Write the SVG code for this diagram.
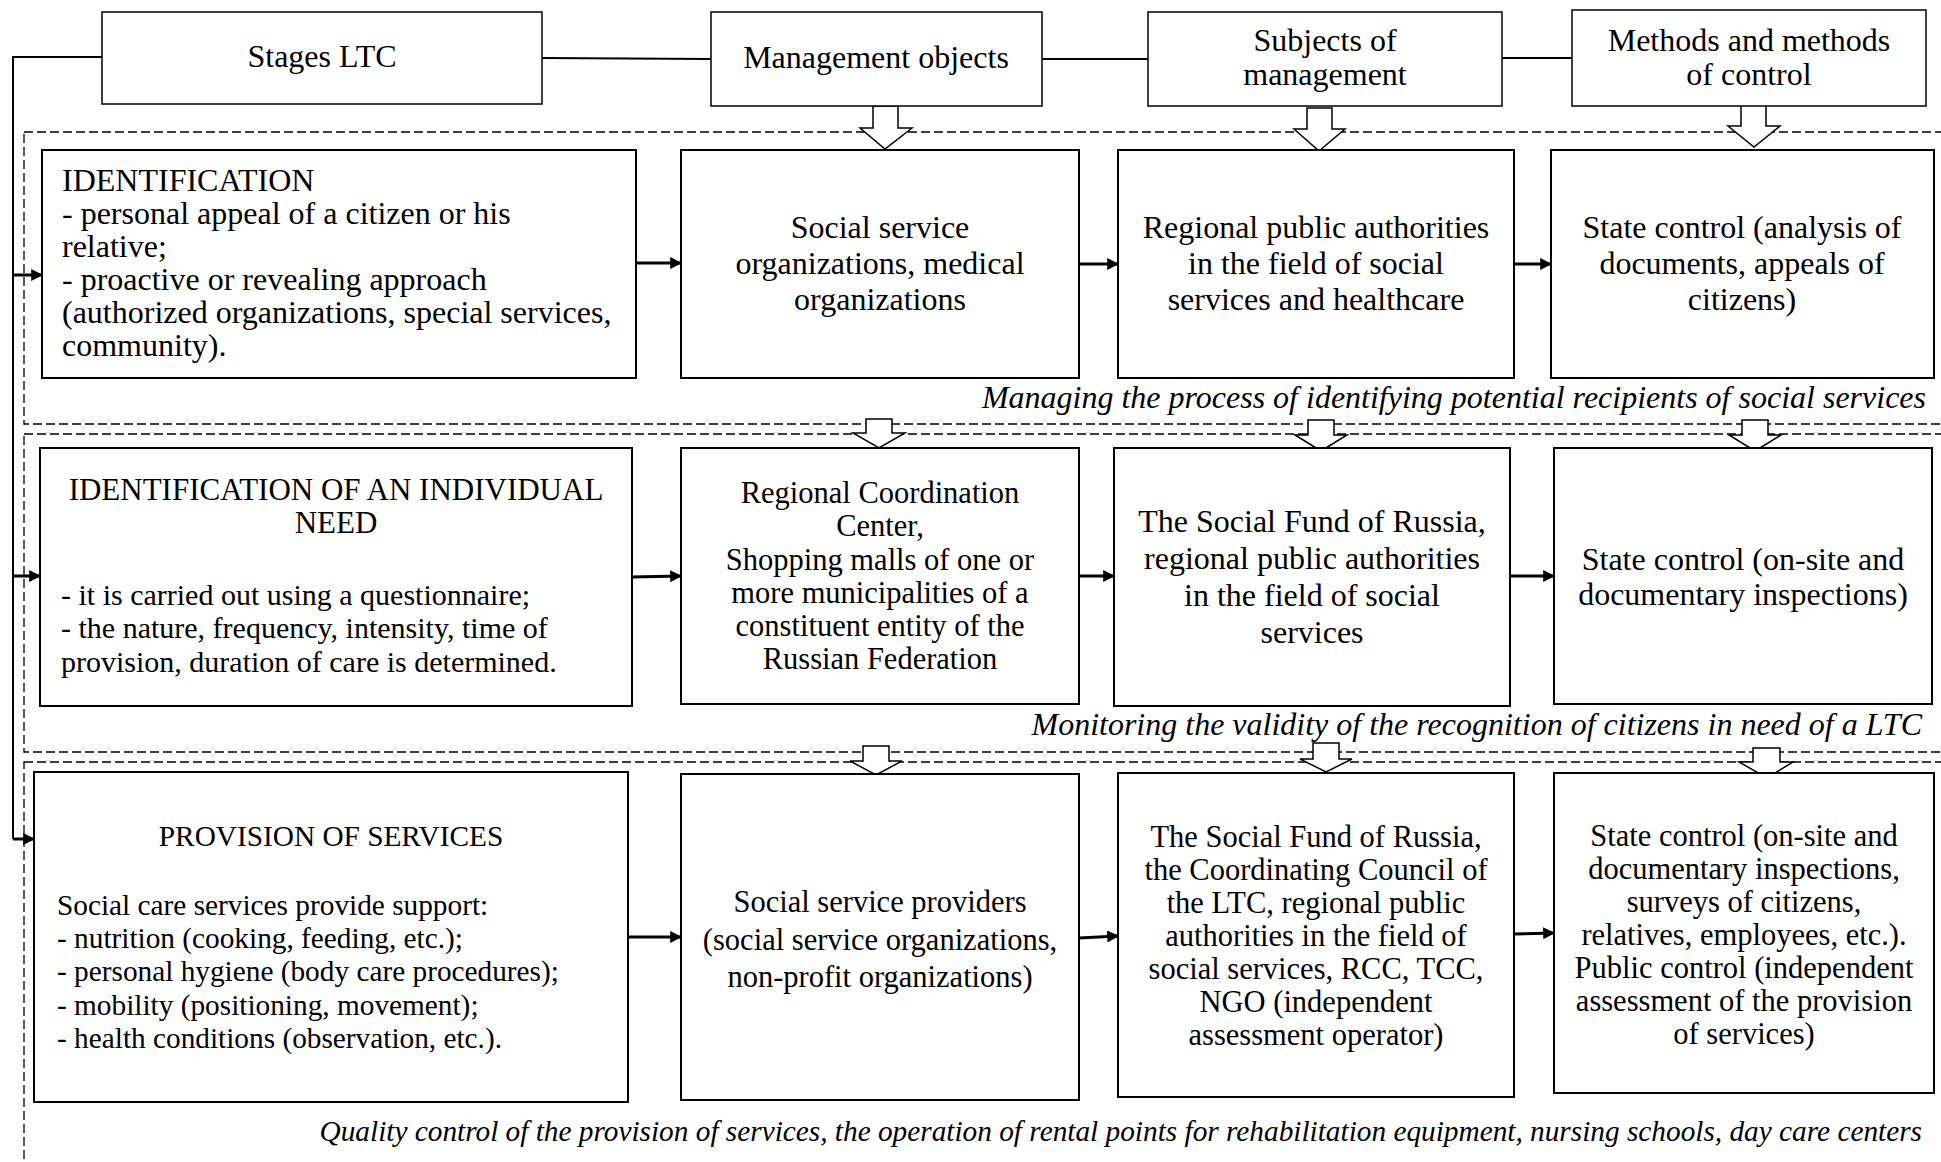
<svg xmlns="http://www.w3.org/2000/svg" width="1941" height="1162" viewBox="0 0 1941 1162">
<defs>
<style>
.hb{fill:#fff;stroke:#000;stroke-width:1.5}
.bx{fill:#fff;stroke:#000;stroke-width:2}
.sec{fill:none;stroke:#000;stroke-width:1.3;stroke-dasharray:9 4}
.ln{fill:none;stroke:#000;stroke-width:2}
.ar{fill:none;stroke:#000;stroke-width:3;marker-end:url(#ah)}
.ha{fill:#fff;stroke:#000;stroke-width:1.5}
text{font-family:"Liberation Serif","Times New Roman",serif;font-size:32px;fill:#000}
.c{text-anchor:middle}
.it{font-style:italic;text-anchor:end}
.f29{font-size:29.3px}
.f30{font-size:30px}
.f305{font-size:30.5px}
.f31{font-size:31px}
</style>
<marker id="ah" viewBox="0 0 10 10" refX="9" refY="5" markerWidth="4" markerHeight="4" markerUnits="strokeWidth" orient="auto">
<path d="M0,0 L10,5 L0,10 Z" fill="#000"/>
</marker>
</defs>

<g id="sections">
<rect class="sec" x="24" y="132" width="1930" height="292"/>
<rect class="sec" x="24" y="434" width="1930" height="318"/>
<rect class="sec" x="24" y="762" width="1930" height="420"/>
</g>

<g id="connectors">
<polyline class="ln" points="102,57 13,57 13,839"/>
<line class="ln" x1="542" y1="58" x2="711" y2="59"/>
<line class="ln" x1="1042" y1="59" x2="1148" y2="59"/>
<line class="ln" x1="1502" y1="58" x2="1572" y2="58"/>
<line class="ar" x1="13" y1="275" x2="42" y2="275"/>
<line class="ar" x1="13" y1="576" x2="40" y2="576"/>
<line class="ar" x1="13" y1="839" x2="34" y2="839"/>
<line class="ar" x1="636" y1="263" x2="681" y2="263"/>
<line class="ar" x1="1079" y1="264" x2="1118" y2="264"/>
<line class="ar" x1="1514" y1="264" x2="1551" y2="264"/>
<line class="ar" x1="632" y1="577" x2="681" y2="576"/>
<line class="ar" x1="1079" y1="576" x2="1114" y2="576"/>
<line class="ar" x1="1510" y1="576" x2="1554" y2="576"/>
<line class="ar" x1="628" y1="937" x2="681" y2="937"/>
<line class="ar" x1="1079" y1="938" x2="1118" y2="936"/>
<line class="ar" x1="1514" y1="934" x2="1554" y2="933"/>
<polygon class="ha" points="873,106 898,106 898,128 912,128 885,149 860,128 873,128"/>
<polygon class="ha" points="1307,108 1332,108 1332,129 1345,129 1319,151 1294,129 1307,129"/>
<polygon class="ha" points="1741,104 1766,104 1766,126 1780,126 1754,147 1728,126 1741,126"/>
<polygon class="ha" points="866,419 892,419 892,433 905,433 879,448 853,433 866,433"/>
<polygon class="ha" points="1308,420 1334,420 1334,435 1347,435 1321,451 1295,435 1308,435"/>
<polygon class="ha" points="1742,420 1768,420 1768,435 1781,435 1755,451 1729,435 1742,435"/>
<polygon class="ha" points="863,746 889,746 889,761 902,761 876,775 850,761 863,761"/>
<polygon class="ha" points="1313,743 1339,743 1339,759 1352,759 1326,772 1300,759 1313,759"/>
<polygon class="ha" points="1753,748 1780,748 1780,762 1793,762 1767,778 1739,762 1753,762"/>
</g>

<g id="stages-ltc"><rect class="hb" x="102" y="12" width="440" height="92"/><text class="c" x="322" y="67">Stages LTC</text></g>
<g id="management-objects"><rect class="hb" x="711" y="12" width="331" height="94"/><text class="c" x="876" y="68">Management objects</text></g>
<g id="subjects-of-management"><rect class="hb" x="1148" y="12" width="354" height="94"/><text class="c" x="1325" y="51">Subjects of</text><text class="c" x="1325" y="85">management</text></g>
<g id="methods-of-control"><rect class="hb" x="1572" y="10" width="354" height="96"/><text class="c" x="1749" y="51">Methods and methods</text><text class="c" x="1749" y="85">of control</text></g>

<g id="identification">
<rect class="bx" x="42" y="150" width="594" height="228"/>
<text x="62" y="191">IDENTIFICATION</text>
<text x="62" y="224">- personal appeal of a citizen or his</text>
<text x="62" y="257">relative;</text>
<text x="62" y="290">- proactive or revealing approach</text>
<text x="62" y="323">(authorized organizations, special services,</text>
<text x="62" y="356">community).</text>
</g>
<g id="social-service-organizations">
<rect class="bx" x="681" y="150" width="398" height="228"/>
<text class="c" x="880" y="238">Social service</text>
<text class="c" x="880" y="274">organizations, medical</text>
<text class="c" x="880" y="310">organizations</text>
</g>
<g id="regional-public-authorities">
<rect class="bx" x="1118" y="150" width="396" height="228"/>
<text class="c" x="1316" y="238">Regional public authorities</text>
<text class="c" x="1316" y="274">in the field of social</text>
<text class="c" x="1316" y="310">services and healthcare</text>
</g>
<g id="state-control-1">
<rect class="bx" x="1551" y="150" width="383" height="228"/>
<text class="c" x="1742" y="238">State control (analysis of</text>
<text class="c" x="1742" y="274">documents, appeals of</text>
<text class="c" x="1742" y="310">citizens)</text>
</g>
<text class="it" x="1926" y="408">Managing the process of identifying potential recipients of social services</text>

<g id="identification-need">
<rect class="bx" x="40" y="448" width="592" height="258"/>
<text class="c f31" x="336" y="500">IDENTIFICATION OF AN INDIVIDUAL</text>
<text class="c f31" x="336" y="533">NEED</text>
<text class="f30" x="61" y="605">- it is carried out using a questionnaire;</text>
<text class="f30" x="61" y="638">- the nature, frequency, intensity, time of</text>
<text class="f30" x="61" y="672">provision, duration of care is determined.</text>
</g>
<g id="regional-coordination-center">
<rect class="bx" x="681" y="448" width="398" height="256"/>
<text class="c f305" x="880" y="503">Regional Coordination</text>
<text class="c f305" x="880" y="536">Center,</text>
<text class="c f305" x="880" y="570">Shopping malls of one or</text>
<text class="c f305" x="880" y="603">more municipalities of a</text>
<text class="c f305" x="880" y="636">constituent entity of the</text>
<text class="c f305" x="880" y="669">Russian Federation</text>
</g>
<g id="social-fund-2">
<rect class="bx" x="1114" y="448" width="396" height="258"/>
<text class="c" x="1312" y="532">The Social Fund of Russia,</text>
<text class="c" x="1312" y="569">regional public authorities</text>
<text class="c" x="1312" y="606">in the field of social</text>
<text class="c" x="1312" y="643">services</text>
</g>
<g id="state-control-2">
<rect class="bx" x="1554" y="448" width="378" height="256"/>
<text class="c" x="1743" y="570">State control (on-site and</text>
<text class="c" x="1743" y="605">documentary inspections)</text>
</g>
<text class="it" x="1922" y="735">Monitoring the validity of the recognition of citizens in need of a LTC</text>

<g id="provision-of-services">
<rect class="bx" x="34" y="772" width="594" height="330"/>
<text class="c f29" x="331" y="846">PROVISION OF SERVICES</text>
<text class="f29" x="57" y="915">Social care services provide support:</text>
<text class="f29" x="57" y="948">- nutrition (cooking, feeding, etc.);</text>
<text class="f29" x="57" y="981">- personal hygiene (body care procedures);</text>
<text class="f29" x="57" y="1015">- mobility (positioning, movement);</text>
<text class="f29" x="57" y="1048">- health conditions (observation, etc.).</text>
</g>
<g id="social-service-providers">
<rect class="bx" x="681" y="774" width="398" height="326"/>
<text class="c f305" x="880" y="912">Social service providers</text>
<text class="c f305" x="880" y="950">(social service organizations,</text>
<text class="c f305" x="880" y="987">non-profit organizations)</text>
</g>
<g id="social-fund-3">
<rect class="bx" x="1118" y="773" width="396" height="324"/>
<text class="c f305" x="1316" y="847">The Social Fund of Russia,</text>
<text class="c f305" x="1316" y="880">the Coordinating Council of</text>
<text class="c f305" x="1316" y="913">the LTC, regional public</text>
<text class="c f305" x="1316" y="946">authorities in the field of</text>
<text class="c f305" x="1316" y="979">social services, RCC, TCC,</text>
<text class="c f305" x="1316" y="1012">NGO (independent</text>
<text class="c f305" x="1316" y="1045">assessment operator)</text>
</g>
<g id="state-control-3">
<rect class="bx" x="1554" y="773" width="380" height="320"/>
<text class="c f305" x="1744" y="846">State control (on-site and</text>
<text class="c f305" x="1744" y="879">documentary inspections,</text>
<text class="c f305" x="1744" y="912">surveys of citizens,</text>
<text class="c f305" x="1744" y="945">relatives, employees, etc.).</text>
<text class="c f305" x="1744" y="978">Public control (independent</text>
<text class="c f305" x="1744" y="1011">assessment of the provision</text>
<text class="c f305" x="1744" y="1044">of services)</text>
</g>
<text class="it f29" x="1922" y="1141">Quality control of the provision of services, the operation of rental points for rehabilitation equipment, nursing schools, day care centers</text>
</svg>
